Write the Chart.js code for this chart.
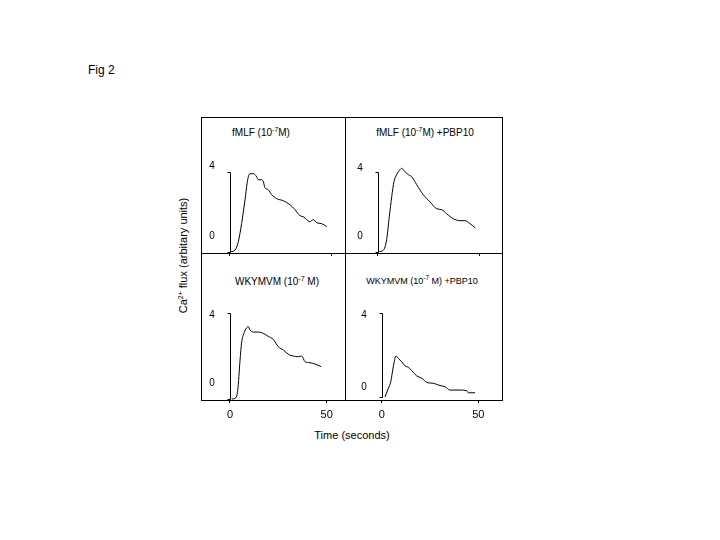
<!DOCTYPE html>
<html>
<head>
<meta charset="utf-8">
<script src="https://cdn.jsdelivr.net/npm/chart.js@4.4.1/dist/chart.umd.min.js"></script>
<style>
  body { margin: 0; background: #fff; }
  #page { position: relative; width: 720px; height: 540px; overflow: hidden; font-family: "Liberation Sans", Arial, sans-serif; color: #000; }
  canvas { position: absolute; }
  .txt { position: absolute; line-height: 1; white-space: nowrap; }
  .ttl { font-size: 10px; width: 200px; text-align: center; }
  .sup { font-size: 7px; position: relative; top: -4px; }
</style>
</head>
<body>
<div id="page">
  <div class="txt" style="left:88px; top:64px; font-size:12px;">Fig 2</div>
  <div class="txt ttl" style="left:161px; top:128px;">fMLF (10<span class="sup">-7</span>M)</div>
  <div class="txt ttl" style="left:325px; top:128px;">fMLF (10<span class="sup">-7</span>M) +PBP10</div>
  <div class="txt ttl" style="left:177px; top:277px;">WKYMVM (10<span class="sup">-7</span> M)</div>
  <div class="txt ttl" style="left:322px; top:277px; font-size:9px;">WKYMVM (10<span class="sup" style="font-size:6.5px">-7</span> M) +PBP10</div>
  <div class="txt" style="left:252px; width:200px; text-align:center; top:430px; font-size:11px;">Time (seconds)</div>
  <div class="txt" style="left:83px; width:200px; text-align:center; top:250px; font-size:11px; transform:rotate(-90deg);">Ca<span class="sup" style="top:-4px">2+</span> flux (arbitary units)</div>
</div>
<script>
// time (s) and Ca2+ flux values
var tlTime = [0.5, 2.5, 4.1, 5.7, 7.4, 8.7, 9.8, 11.5, 13.1, 13.9, 15.6, 16.4, 17.2, 18.8, 20.5, 23, 26.2, 29.5, 32, 34.4, 36, 37.7, 39.3, 41, 42.6, 45.1, 47.6];
var tlFlux = [0, 0.08, 0.5, 1.4, 2.6, 3.6, 3.9, 3.9, 3.75, 3.6, 3.6, 3.5, 3.2, 3.1, 2.85, 2.65, 2.55, 2.35, 2.1, 1.8, 1.75, 1.6, 1.5, 1.6, 1.45, 1.4, 1.25];

var trTime = [0.3, 2.8, 4.4, 5.7, 6.9, 8, 9.3, 11, 11.8, 13.4, 15.1, 16.7, 19.2, 22.4, 25.7, 29, 31.5, 33.9, 37.2, 40.5, 42.9, 45.4, 47.9];
var trFlux = [0, 0.08, 0.6, 1.75, 2.75, 3.5, 3.85, 4.1, 4.17, 4.0, 3.85, 3.75, 3.35, 2.85, 2.5, 2.15, 2.1, 1.9, 1.65, 1.55, 1.55, 1.4, 1.2];

var blTime = [0.9, 2.6, 4, 5.2, 6, 7.2, 8.6, 9.5, 10.3, 12.1, 14.6, 17.2, 19.8, 22.4, 25, 27.6, 30.2, 32.7, 35.3, 37.1, 38.8, 41.4, 44, 47.1];
var blFlux = [0, 0.03, 0.4, 1.8, 2.6, 3.04, 3.3, 3.35, 3.2, 3.1, 3.1, 3.04, 2.9, 2.76, 2.42, 2.27, 2.07, 1.99, 1.96, 1.99, 1.73, 1.68, 1.62, 1.5];

var brTime = [1.7, 3.4, 4.7, 6, 7.4, 8.6, 10.3, 12.1, 13.8, 15.5, 18.1, 20.7, 23.6, 26.7, 30.2, 32.7, 35.3, 40.5, 44, 44.8, 48.3];
var brFlux = [0, 0.4, 0.73, 1.44, 1.94, 1.83, 1.67, 1.47, 1.41, 1.25, 1.0, 0.89, 0.68, 0.65, 0.54, 0.49, 0.33, 0.33, 0.3, 0.2, 0.2];

var xTicks = [0, 50];
var barValues = [0, 4];
var barLabels = ['0', '4'];

// panel boxes on the page and the axis ranges that match them
var panels = [
  { left: 201, top: 117, right: 345, bottom: 253, x: [-14.26, 56.57], y: [-0.065, 6.735], time: tlTime, flux: tlFlux, tickLabels: false, off: [-15, -5] },
  { left: 345, top: 117, right: 502, bottom: 253, x: [-16.08, 61.14], y: [-0.065, 6.735], time: trTime, flux: trFlux, tickLabels: false, off: [-15, -3.5] },
  { left: 201, top: 253, right: 345, bottom: 400, x: [-15.0, 59.5], y: [-0.046, 6.76], time: blTime, flux: blFlux, tickLabels: true, off: [-16, 2.5] },
  { left: 345, top: 253, right: 502, bottom: 400, x: [-18.99, 62.24], y: [-0.142, 6.82], time: brTime, flux: brFlux, tickLabels: true, off: [-10, 2.5] }
];

var PAD = 30, PADTOP = 5, AXISH = 30;

var framePlugin = {
  id: 'frame',
  afterDraw: function(chart, args, opts) {
    var ctx = chart.ctx, a = chart.chartArea;
    var xs = chart.scales.x, ys = chart.scales.y;
    ctx.save();
    ctx.strokeStyle = '#000';
    ctx.lineWidth = 1;
    var L = Math.floor(a.left) + 0.5, R = Math.floor(a.right) + 0.5;
    var T = Math.floor(a.top) + 0.5, B = Math.floor(a.bottom) + 0.5;
    ctx.strokeRect(L, T, R - L, B - T);
    // scale bar 0..4
    var bx = Math.round(xs.getPixelForValue(0)) + 0.5;
    var y0 = ys.getPixelForValue(barValues[0]);
    var y4 = ys.getPixelForValue(barValues[1]);
    ctx.beginPath();
    ctx.moveTo(bx - 3, Math.round(y4) + 0.5);
    ctx.lineTo(bx, Math.round(y4) + 0.5);
    ctx.lineTo(bx, Math.round(y0) + 0.5);
    ctx.lineTo(bx - 3, Math.round(y0) + 0.5);
    ctx.stroke();
    ctx.fillStyle = '#000';
    ctx.font = '10px "Liberation Sans", Arial, sans-serif';
    ctx.textAlign = 'center';
    ctx.textBaseline = 'middle';
    ctx.fillText(barLabels[0], bx - 18.5, y0 + opts.off[0]);
    ctx.fillText(barLabels[1], bx - 18.5, y4 + opts.off[1]);
    ctx.restore();
  }
};

var page = document.getElementById('page');
panels.forEach(function(p) {
  var w = p.right - p.left, h = p.bottom - p.top;
  var cv = document.createElement('canvas');
  cv.width = w + 2 * PAD;
  cv.height = h + PADTOP + AXISH;
  cv.style.left = (p.left - PAD) + 'px';
  cv.style.top = (p.top - PADTOP) + 'px';
  page.appendChild(cv);

  var pts = p.time.map(function(t, i) { return { x: t, y: p.flux[i] }; });

  new Chart(cv, {
    type: 'line',
    data: {
      datasets: [{
        data: pts,
        borderColor: '#000',
        borderWidth: 1,
        pointRadius: 0,
        fill: false,
        cubicInterpolationMode: 'monotone'
      }]
    },
    options: {
      responsive: false,
      animation: false,
      devicePixelRatio: 1,
      events: [],
      layout: { padding: { left: PAD, right: PAD, top: PADTOP, bottom: 0 } },
      plugins: {
        legend: { display: false },
        tooltip: { enabled: false },
        frame: { off: p.off }
      },
      scales: {
        x: {
          type: 'linear',
          min: p.x[0],
          max: p.x[1],
          afterBuildTicks: function(s) { s.ticks = xTicks.map(function(v) { return { value: v }; }); },
          afterFit: function(s) { s.height = AXISH; },
          grid: { drawOnChartArea: false, drawTicks: true, tickLength: 3, color: '#000' },
          border: { display: true, color: '#000' },
          ticks: {
            display: p.tickLabels,
            color: '#000',
            padding: 5,
            maxRotation: 0,
            font: { family: '"Liberation Sans", Arial, sans-serif', size: 11 }
          }
        },
        y: { display: false, min: p.y[0], max: p.y[1] }
      }
    },
    plugins: [framePlugin]
  });
});
</script>
</body>
</html>
